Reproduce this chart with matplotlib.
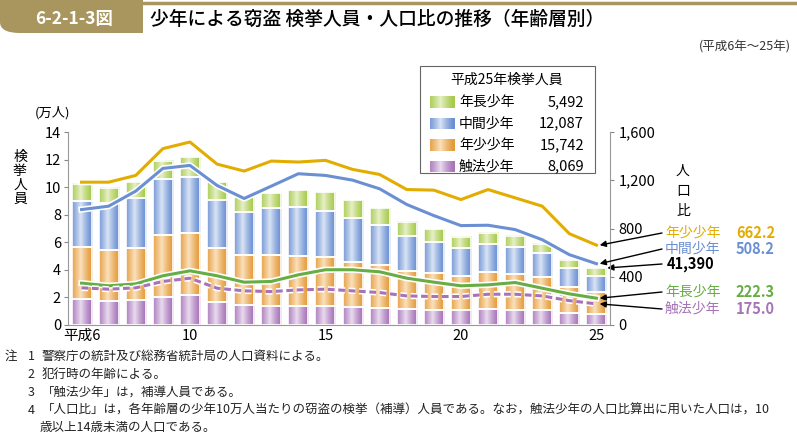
import numpy as np
import matplotlib
matplotlib.use("Agg")
import matplotlib.pyplot as plt
import matplotlib.patches as mpatches
import matplotlib.patheffects as pe
from matplotlib.colors import to_rgb

plt.rcParams['font.family'] = ['Noto Sans CJK JP', 'DejaVu Sans']

# 平成6年～25年
years = list(range(6, 26))

# 検挙人員（人）
shokuhou = [18500, 17700, 18200, 20100, 21600, 16700, 14600, 13800, 13800, 14100,
            13300, 12600, 11400, 10900, 10900, 11400, 11200, 10900, 8500, 8069]
nensho = [38200, 37000, 37600, 44900, 45100, 39100, 36100, 36900, 36400, 35200,
          32600, 30800, 27900, 26700, 24800, 27400, 25900, 23800, 19400, 15742]
chukan = [33300, 33800, 36400, 40600, 40800, 35200, 31300, 34300, 35500, 33500,
          31800, 29400, 25000, 22600, 20100, 19900, 19500, 17500, 13400, 12087]
nencho = [12600, 10900, 11400, 13600, 14300, 12600, 11000, 10600, 12100, 13600,
          12800, 11900, 10500, 9200, 8000, 8000, 8200, 6800, 6000, 5492]

# 人口比
r_nensho = [1184, 1184, 1240, 1462, 1517, 1334, 1276, 1359, 1351, 1365,
            1290, 1248, 1123, 1118, 1040, 1123, 1054, 985, 757, 662.2]
r_chukan = [957, 985, 1110, 1298, 1323, 1157, 1049, 1151, 1254, 1240,
            1201, 1129, 999, 907, 824, 827, 791, 707, 583, 508.2]
r_nencho = [347, 325, 341, 408, 449, 408, 355, 361, 416, 458,
            458, 441, 388, 355, 325, 333, 352, 305, 258, 222.3]
r_shokuhou = [308, 297, 308, 361, 388, 305, 283, 277, 291, 297,
              283, 269, 241, 236, 236, 255, 255, 241, 202, 175.0]

W, H = 797, 438
fig = plt.figure(figsize=(W / 100, H / 100), dpi=100)


def px(x, y):
    return x / W, 1 - y / H


olive = '#a8965e'

# ヘッダー
fig.patches.append(mpatches.FancyBboxPatch(px(0, 33), 60 / W, 50 / H,
                                           boxstyle="round,pad=0,rounding_size=0.025",
                                           transform=fig.transFigure, fc=olive, ec='none'))
fig.patches.append(mpatches.Rectangle(px(25, 33), 118 / W, 40 / H,
                                      transform=fig.transFigure, fc=olive, ec='none'))
fig.lines.append(plt.Line2D([143 / W, 1], [1 - 3 / H, 1 - 3 / H], transform=fig.transFigure,
                            color=olive, lw=2.5))
fig.text(*px(74, 19), '6-2-1-3図', color='white', fontsize=12.5, fontweight='bold',
         ha='center', va='center')
fig.text(*px(150, 19), '少年による窃盗 検挙人員・人口比の推移（年齢層別）', fontsize=13.5,
         fontweight='medium', ha='left', va='center')
fig.text(*px(791, 47), '(平成6年～25年)', fontsize=9, ha='right', va='center', color='#333333')

ax = fig.add_axes([68 / W, 1 - 325 / H, 542 / W, 193 / H])
ax2 = ax.twinx()

cols = {
    'shokuhou': ('#a673b8', '#eadcef'),
    'nensho': ('#e39a3a', '#fbe1bd'),
    'chukan': ('#6a8fd2', '#dae4f5'),
    'nencho': ('#a6c94a', '#e6f0c6'),
}


def grad_img(dark, light, n=64):
    d = np.array(to_rgb(dark))
    l = np.array(to_rgb(light))
    t = np.linspace(0, 1, n)
    w = np.clip(1 - np.abs(t - 0.42) / 0.55, 0, 1) ** 1.3
    img = d[None, :] * (1 - w[:, None]) + l[None, :] * w[:, None]
    return img[None, :, :]


bw = 0.74
stack = [('shokuhou', shokuhou), ('nensho', nensho), ('chukan', chukan), ('nencho', nencho)]
bottom = np.zeros(len(years))
for key, vals in stack:
    v = np.array(vals) / 10000
    img = grad_img(*cols[key])
    for x, b, h in zip(years, bottom, v):
        ax.imshow(img, extent=[x - bw / 2, x + bw / 2, b, b + h], aspect='auto',
                  zorder=2, interpolation='bilinear')
    ax.bar(years, v, bw, bottom=bottom, fill=False, edgecolor='white', lw=1.2, zorder=3)
    bottom += v

ax.set_xlim(5.5, 25.5)
ax.set_ylim(0, 14)
ax.set_yticks(range(0, 15, 2))
ax.set_xticks([6, 10, 15, 20, 25])
ax.set_xticklabels(['平成6', '10', '15', '20', '25'])
ax.tick_params(axis='y', length=3, color='#888888', labelsize=10.5, pad=2)
ax.tick_params(axis='x', length=0, labelsize=10.5, pad=3)
for s in ['top', 'right']:
    ax.spines[s].set_visible(False)
for s in ['left', 'bottom']:
    ax.spines[s].set_color('#999999')

ax2.set_ylim(0, 1600)
ax2.set_yticks(range(0, 1601, 400))
ax2.set_yticklabels(['0', '400', '800', '1,200', '1,600'])
ax2.tick_params(axis='y', length=3, color='#888888', labelsize=10.5, pad=3)
for s in ['top', 'left', 'bottom']:
    ax2.spines[s].set_visible(False)
ax2.spines['right'].set_color('#999999')

white_edge = [pe.Stroke(linewidth=4.5, foreground='white'), pe.Normal()]
ax2.plot(years, r_nensho, color='#e3ac00', lw=2.2, path_effects=white_edge, zorder=4)
ax2.plot(years, r_chukan, color='#6a8fd2', lw=2.2, path_effects=white_edge, zorder=4)
ax2.plot(years, r_nencho, color='#66ad45', lw=2.2, path_effects=white_edge, zorder=4)
ax2.plot(years, r_shokuhou, color='#a673b8', lw=2.2, ls=(0, (2.2, 1.2)),
         path_effects=white_edge, zorder=4)

fig.text(*px(53, 113), '(万人)', fontsize=9.5, ha='center', va='center')
fig.text(*px(20, 178), '検\n挙\n人\n員', fontsize=10, ha='center', va='center', linespacing=1.0)
fig.text(*px(683, 191), '人\n口\n比', fontsize=10, ha='center', va='center', linespacing=1.55)

# 凡例
fig.patches.append(mpatches.Rectangle(px(420, 173), 175 / W, 107 / H, transform=fig.transFigure,
                                      fc='white', ec='#666666', lw=0.8, zorder=5))
fig.text(*px(507, 80), '平成25年検挙人員', fontsize=10, ha='center', va='center', zorder=6)
leg = [('nencho', '年長少年', '5,492'), ('chukan', '中間少年', '12,087'),
       ('nensho', '年少少年', '15,742'), ('shokuhou', '触法少年', '8,069')]
for i, (key, lab, val) in enumerate(leg):
    y = 102 + i * 21.5
    sw = fig.add_axes([430 / W, 1 - (y + 6) / H, 25 / W, 12 / H], zorder=6)
    sw.imshow(grad_img(*cols[key]), aspect='auto', interpolation='bilinear')
    sw.set_axis_off()
    fig.text(*px(459, y), lab, fontsize=10, ha='left', va='center', zorder=6)
    fig.text(*px(584, y), val, fontsize=10.5, ha='right', va='center', zorder=6)

# 右側ラベル
total25 = shokuhou[-1] + nensho[-1] + chukan[-1] + nencho[-1]
right = [('年少少年', r_nensho[-1], '#e3ac00', 233),
         ('中間少年', r_chukan[-1], '#6a8fd2', 249),
         ('年長少年', r_nencho[-1], '#66ad45', 292),
         ('触法少年', r_shokuhou[-1], '#a673b8', 309)]
for lab, val, c, y in right:
    fig.text(*px(665, y), lab, color=c, fontsize=10, ha='left', va='center')
    fig.text(*px(775, y), f'{val:.1f}', color=c, fontsize=10.5, fontweight='bold',
             ha='right', va='center')
    ax2.annotate('', xy=(25.12, val), xycoords='data', xytext=px(662, y),
                 textcoords='figure fraction',
                 arrowprops=dict(arrowstyle='-|>', color='black', lw=1, mutation_scale=9,
                                 shrinkA=0, shrinkB=0), zorder=7)
fig.text(*px(667, 264), f'{total25:,}', fontsize=10.5, fontweight='bold', ha='left', va='center')
ax.annotate('', xy=(25.4, total25 / 10000), xycoords='data', xytext=px(662, 264),
            textcoords='figure fraction',
            arrowprops=dict(arrowstyle='-|>', color='black', lw=1, mutation_scale=9,
                            shrinkA=0, shrinkB=0), zorder=7, annotation_clip=False)

# 注
notes = [
    (356, '注', '1', '警察庁の統計及び総務省統計局の人口資料による。'),
    (374, '', '2', '犯行時の年齢による。'),
    (392, '', '3', '「触法少年」は，補導人員である。'),
    (410, '', '4', '「人口比」は，各年齢層の少年10万人当たりの窃盗の検挙（補導）人員である。なお，触法少年の人口比算出に用いた人口は，10'),
    (428, '', '', '歳以上14歳未満の人口である。'),
]
for y, a, n, t in notes:
    if a:
        fig.text(*px(5, y), a, fontsize=9, ha='left', va='center', color='#222222')
    if n:
        fig.text(*px(31, y), n, fontsize=9, ha='center', va='center', color='#222222')
    fig.text(*px(42 if n else 40, y), t, fontsize=9, ha='left', va='center', color='#222222')

fig.savefig('out.png', dpi=100)
